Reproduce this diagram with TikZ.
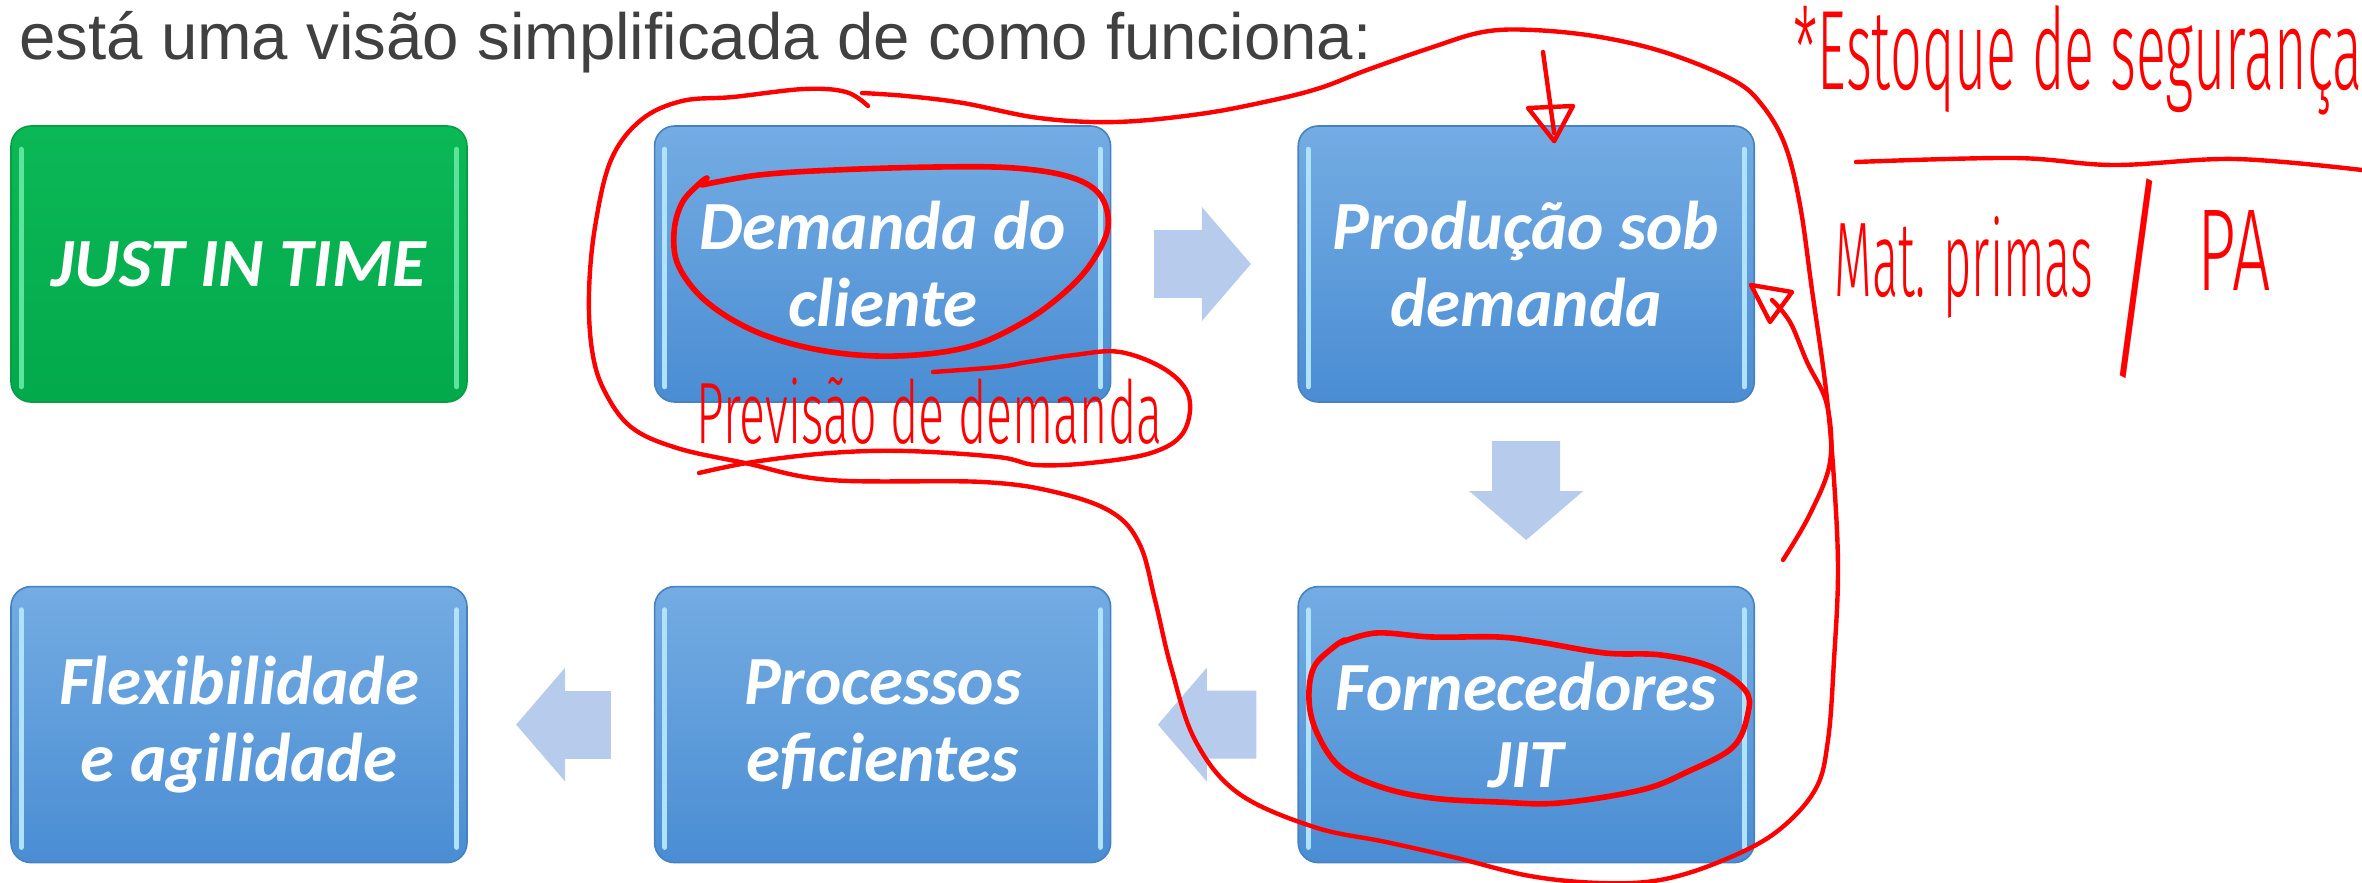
\documentclass[tikz,border=0pt]{standalone}
\usepackage{fontspec}
\setmainfont{Liberation Sans}
\newfontfamily\boxfont{Carlito}
\newfontfamily\handfont{Fira Sans Light}
\usetikzlibrary{positioning,calc,arrows.meta}

\definecolor{boxtop}{HTML}{74ACE3}
\definecolor{boxbot}{HTML}{4A8DD3}
\definecolor{boxline}{HTML}{4682C2}
\definecolor{jittop}{HTML}{0BB856}
\definecolor{jitbot}{HTML}{03A94B}
\definecolor{jitline}{HTML}{079E46}
\definecolor{jitshine}{HTML}{5EE39A}
\definecolor{shine}{HTML}{B0E2FB}
\definecolor{arrowfill}{HTML}{B7CCEC}
\definecolor{titlegray}{HTML}{404040}
\definecolor{pen}{HTML}{FF0000}

\begin{document}
\begin{tikzpicture}[x=0.5pt, y=-0.5pt,
        every node/.style={inner sep=0pt},
        node distance=91.5pt and 93pt,
        stepbox/.style={rounded corners=10pt, minimum width=228pt, minimum height=138pt,
            align=center, text=white, top color=boxtop, bottom color=boxbot,
            draw=boxline, line width=0.8pt,
            font=\boxfont\bfseries\itshape\fontsize{34.5pt}{38.5pt}\selectfont},
        jitbox/.style={stepbox, top color=jittop, bottom color=jitbot, draw=jitline},
        blkarrow/.style={line width=34pt, draw=arrowfill,
            -{Triangle[length=24.5pt, width=57pt, line width=0pt]}},
        shineline/.style={line width=2.5pt, line cap=round},
        pen/.style={draw=pen, line width=2.2pt, line cap=round, line join=round},
        handtext/.style={text=pen, font=\handfont\fontsize{40pt}{44pt}\selectfont}
    ]
    \useasboundingbox (0,0) rectangle (2362,883);

    \node[anchor=base west, text=titlegray, font=\fontsize{32.7pt}{40pt}\selectfont]
        (title) at (19,60) {está uma visão simplificada de como funciona:};

    \node[jitbox] (jit) at (239,264) {JUST IN TIME};
    \node[stepbox, right=of jit] (demanda) {Demanda do\\cliente};
    \node[stepbox, right=of demanda] (producao) {Produção sob\\demanda};
    \node[stepbox, below=of producao] (fornec) {Fornecedores\\JIT};
    \node[stepbox, left=of fornec] (processos) {Processos\\eficientes};
    \node[stepbox, left=of processos] (flex) {Flexibilidade\\e agilidade};

    % light edges of the boxes
    \foreach \b/\c in {jit/jitshine, demanda/shine, producao/shine, fornec/shine, processos/shine, flex/shine} {
        \draw[shineline, \c] ($(\b.north west)+(11,24)$) -- ($(\b.south west)+(11,-16)$);
        \draw[shineline, \c] ($(\b.north east)+(-11,24)$) -- ($(\b.south east)+(-11,-16)$);
    }

    \draw[blkarrow] ($(demanda.east)!.23!(producao.west)$) -- ($(demanda.east)!.75!(producao.west)$);
    \draw[blkarrow] ($(producao.south)!.21!(fornec.north)$) -- ($(producao.south)!.75!(fornec.north)$);
    \draw[blkarrow] ($(fornec.west)!.22!(processos.east)$) -- ($(fornec.west)!.75!(processos.east)$);
    \draw[blkarrow] ($(processos.west)!.23!(flex.east)$) -- ($(processos.west)!.74!(flex.east)$);

    % red notes
    \draw[pen] plot[smooth, tension=0.6] coordinates {(868,106) (846,92) (804,89) (733,97)
        (682,101) (641,120) (611,160) (595,227) (589,293) (592,350) (604,390) (631,427)
        (677,448) (745,463) (830,480) (983,482) (1059,493) (1113,513) (1140,545) (1155,600)
        (1171,667) (1195,740) (1238,793) (1314,827) (1386,842) (1457,858) (1530,876)
        (1600,883) (1660,880) (1719,862) (1775,833) (1815,790) (1828,740) (1834,660)
        (1838,571) (1834,480) (1826,390) (1812,290) (1800,205) (1785,145) (1762,105)
        (1733,80) (1667,53) (1600,37) (1533,30) (1483,32) (1430,48) (1367,70) (1320,88)
        (1269,101) (1200,114) (1116,122) (1039,118) (963,103) (906,96) (862,93)};
    \draw[pen, line width=2.8pt] plot[smooth, tension=0.6] coordinates {(702,185) (759,175)
        (835,170) (937,167) (1014,168) (1070,177) (1100,195) (1108,227) (1092,262)
        (1065,292) (1024,322) (968,347) (896,356) (825,351) (759,333) (708,303) (679,267)
        (674,233) (682,203) (700,183) (707,178)};
    \draw[pen, line width=2.8pt] plot[smooth, tension=0.6] coordinates {(1340,643) (1376,633)
        (1432,637) (1498,637) (1539,642) (1605,653) (1661,655) (1712,667) (1745,690)
        (1748,713) (1733,747) (1687,772) (1641,790) (1559,803) (1498,802) (1432,798)
        (1381,787) (1340,767) (1317,733) (1309,700) (1314,667) (1335,646) (1345,640)};
    \draw[pen] plot[smooth, tension=0.6] coordinates {(933,372) (998,367) (1028,362)
        (1074,355) (1120,352) (1166,370) (1189,397) (1183,433) (1151,453) (1090,463)
        (1036,465) (998,457) (906,451) (830,453) (753,462) (699,473)};
    \draw[pen] (1543,52) -- ([xshift=14pt, yshift=-4pt]producao.north);
    \draw[pen] (1528,108) -- (1573,106) -- ([xshift=14pt, yshift=-8pt]producao.north) -- cycle;
    \draw[pen] plot[smooth, tension=0.6] coordinates {(1783,560) (1810,514) (1830,462)
        (1827,405) (1807,362) (1790,322) (1772,300)};
    \draw[pen] ([xshift=-2pt, yshift=-10.5pt]producao.east) -- (1792,292) -- (1770,322) -- cycle;
    \draw[pen] plot[smooth, tension=0.6] coordinates {(1856,162) (2014,158) (2114,165)
        (2235,159) (2362,170)};

    \node[handtext, anchor=base west] (estoque) at (1793,90)
        {\resizebox{284.5pt}{42pt}{*Estoque de segurança}};
    \node[handtext, anchor=base west] (previsao) at (696,443)
        {\resizebox{233pt}{33pt}{Previsão de demanda}};
    \node[handtext, anchor=base west] (matprimas) at (1834,296)
        {\resizebox{129.5pt}{40pt}{Mat. primas}};
    \node[handtext] (barra) at (2136,279) {\resizebox*{30pt}{100pt}{/}};
    \node[handtext, anchor=base west] (pa) at (2197,290)
        {\resizebox{36.5pt}{40pt}{PA}};
\end{tikzpicture}
\end{document}
